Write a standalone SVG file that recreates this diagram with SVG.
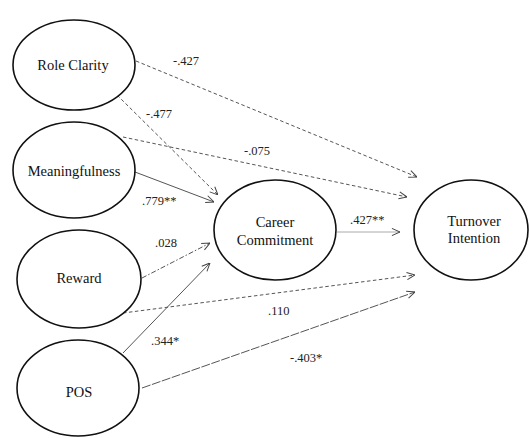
<svg xmlns="http://www.w3.org/2000/svg" width="529" height="438" viewBox="0 0 529 438">
<defs>
<marker id="arr" viewBox="0 0 10 10" refX="10" refY="5" markerWidth="9" markerHeight="9" markerUnits="userSpaceOnUse" orient="auto">
<path d="M1,1 L10,5 L1,9" fill="none" stroke="#444" stroke-width="1.1"/>
</marker>
</defs>
<style>
.node ellipse{fill:#fff;stroke:#111;stroke-width:1.6}
.node text{font-size:14.5px;fill:#111;text-anchor:middle}
.edges line{stroke:#555;stroke-width:1;fill:none;marker-end:url(#arr)}
.dash{stroke-dasharray:3.5 2.5}
.dashdot{stroke-dasharray:5 2 1.5 2}
.long{stroke-dasharray:9 1.5}
.edges line.light{stroke:#aaa}
.lbl text{font-size:12.5px;fill:#222}
</style>
<rect width="529" height="438" fill="#fff"/>
<g class="edges" id="connectors">
<line class="dash" x1="136" y1="61" x2="417" y2="177"/>
<line class="dash" x1="117" y1="95" x2="218" y2="195"/>
<line class="dash" x1="123" y1="137" x2="407" y2="197"/>
<line x1="135" y1="172" x2="214" y2="202"/>
<line class="dashdot" x1="142" y1="278" x2="210" y2="243"/>
<line class="dash" x1="123" y1="313" x2="415" y2="275"/>
<line x1="123" y1="353" x2="210" y2="263"/>
<line class="long" x1="142" y1="388" x2="415" y2="292"/>
<line class="light" x1="337" y1="232" x2="400" y2="232"/>
</g>
<g class="lbl" id="labels" font-family="Liberation Serif, DejaVu Serif, serif">
<text x="173" y="65">-.427</text>
<text x="146" y="118">-.477</text>
<text x="244" y="155">-.075</text>
<text x="142" y="205">.779**</text>
<text x="155" y="247">.028</text>
<text x="268" y="315">.110</text>
<text x="151" y="345">.344*</text>
<text x="290" y="362">-.403*</text>
<text x="350" y="224">.427**</text>
</g>
<g font-family="Liberation Serif, DejaVu Serif, serif">
<g class="node" id="role-clarity"><ellipse cx="74" cy="65" rx="61" ry="45"/><text x="73" y="70">Role Clarity</text></g>
<g class="node" id="meaningfulness"><ellipse cx="74" cy="170" rx="61" ry="48"/><text x="74" y="176">Meaningfulness</text></g>
<g class="node" id="reward"><ellipse cx="79" cy="279" rx="62" ry="49"/><text x="79" y="283">Reward</text></g>
<g class="node" id="pos"><ellipse cx="78" cy="388" rx="61" ry="48"/><text x="79" y="397">POS</text></g>
<g class="node" id="career-commitment"><ellipse cx="275" cy="230" rx="61" ry="50"/><text x="275" y="227">Career</text><text x="275" y="245">Commitment</text></g>
<g class="node" id="turnover-intention"><ellipse cx="471" cy="230" rx="57" ry="50"/><text x="474" y="226">Turnover</text><text x="474" y="243">Intention</text></g>
</g>
</svg>
